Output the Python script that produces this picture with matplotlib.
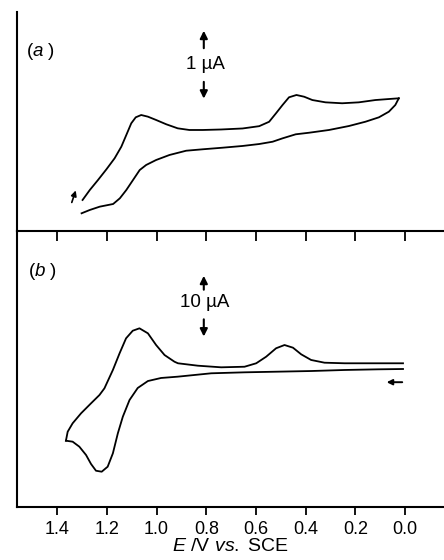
import matplotlib
matplotlib.use('Agg')
import matplotlib.pyplot as plt

plt.rcParams['font.family'] = ['Liberation Sans', 'DejaVu Sans']
plt.rcParams['mathtext.fontset'] = 'custom'
plt.rcParams['mathtext.rm'] = 'Liberation Sans'
plt.rcParams['mathtext.it'] = 'Liberation Sans:italic'

# ---------------- data ----------------
# Panel (a): potential (V vs. SCE) and current (µA, arbitrary offset)
a_upper_E = [1.298, 1.269, 1.236, 1.202, 1.169, 1.142, 1.122, 1.102, 1.084, 1.062,
             1.035, 1.002, 0.961, 0.915, 0.868, 0.814, 0.740, 0.654, 0.587, 0.547,
             0.520, 0.493, 0.467, 0.437, 0.406, 0.373, 0.320, 0.253, 0.186, 0.119,
             0.065, 0.025]
a_upper_I = [0.431, 0.569, 0.708, 0.857, 1.010, 1.171, 1.333, 1.496, 1.579, 1.611,
             1.588, 1.542, 1.482, 1.426, 1.403, 1.403, 1.410, 1.424, 1.456, 1.517,
             1.632, 1.750, 1.857, 1.889, 1.865, 1.819, 1.787, 1.774, 1.787, 1.819,
             1.833, 1.843]
a_lower_E = [0.025, 0.039, 0.065, 0.105, 0.159, 0.226, 0.306, 0.386, 0.440, 0.493,
             0.533, 0.587, 0.654, 0.734, 0.814, 0.881, 0.948, 1.002, 1.042, 1.068,
             1.095, 1.122, 1.148, 1.175, 1.229, 1.269, 1.302]
a_lower_I = [1.843, 1.750, 1.657, 1.579, 1.518, 1.458, 1.403, 1.365, 1.343, 1.287,
             1.240, 1.208, 1.181, 1.157, 1.135, 1.115, 1.056, 0.986, 0.917, 0.847,
             0.708, 0.569, 0.454, 0.375, 0.338, 0.292, 0.246]

# Panel (b)
b_upper_E = [0.008, 0.109, 0.243, 0.324, 0.378, 0.418, 0.451, 0.485, 0.519, 0.559,
             0.599, 0.646, 0.740, 0.834, 0.914, 0.928, 0.968, 1.002, 1.035, 1.069,
             1.096, 1.123, 1.149, 1.176, 1.210, 1.230, 1.264, 1.304, 1.338, 1.358,
             1.365]
b_upper_I = [22.11, 22.11, 22.11, 22.20, 22.62, 23.49, 24.51, 24.92, 24.42, 23.12,
             22.11, 21.58, 21.49, 21.74, 22.11, 22.35, 23.38, 24.92, 26.72, 27.49,
             27.12, 25.95, 23.65, 21.08, 18.26, 17.23, 15.95, 14.42, 12.88, 11.58,
             10.20]
b_lower_E = [1.365, 1.338, 1.311, 1.284, 1.264, 1.244, 1.221, 1.197, 1.176, 1.156,
             1.136, 1.109, 1.076, 1.035, 0.982, 0.915, 0.780, 0.646, 0.512, 0.378,
             0.243, 0.109, 0.008]
b_lower_I = [10.20, 10.05, 9.28, 8.00, 6.62, 5.58, 5.43, 6.20, 8.26, 11.34,
             13.89, 16.46, 18.31, 19.38, 19.85, 20.05, 20.57, 20.72, 20.82, 20.92,
             21.08, 21.18, 21.23]

xticks = [1.4, 1.2, 1.0, 0.8, 0.6, 0.4, 0.2, 0.0]
xtick_labels = ['1.4', '1.2', '1.0', '0.8', '0.6', '0.4', '0.2', '0.0']
scale_a_label = '1 µA'
scale_b_label = '10 µA'
xlabel = r'$E$ /V $vs.$ SCE'

# ---------------- figure ----------------
W, H = 444, 560
fig = plt.figure(figsize=(W / 100, H / 100), dpi=100)

px_per_V = 248.4
x0_px = 405.0  # pixel of E = 0.0


def xlim_for(left_px):
    return ((x0_px - left_px) / px_per_V, (x0_px - W) / px_per_V)


lw_curve = 1.3
lw_spine = 1.5
left_px = 17

# Panel (b) first (so panel (a) with its downward ticks is drawn on top)
b_top, b_bottom = 231, 507
ax_b = fig.add_axes([left_px / W, (H - b_bottom) / H, (W - left_px) / W, (b_bottom - b_top) / H])
ax_b.patch.set_visible(False)
ax_b.set_xlim(*xlim_for(left_px))
ax_b.set_ylim(0, (b_bottom - b_top) / 6.5)
ax_b.plot(b_upper_E, b_upper_I, color='black', lw=lw_curve, solid_joinstyle='round')
ax_b.plot(b_lower_E, b_lower_I, color='black', lw=lw_curve, solid_joinstyle='round')
for s in ['top', 'right']:
    ax_b.spines[s].set_visible(False)
for s in ['left', 'bottom']:
    ax_b.spines[s].set_linewidth(lw_spine)
ax_b.set_xticks(xticks)
ax_b.set_xticklabels(xtick_labels, fontsize=13)
ax_b.tick_params(axis='x', direction='out', length=6, width=1.3, pad=4)
ax_b.set_yticks([])
ax_b.set_xlabel(xlabel, fontsize=14, labelpad=0)
ax_b.text(0.025, 0.855, r'($b$ )', transform=ax_b.transAxes, fontsize=13.5, ha='left', va='center')
ax_b.annotate('', xy=(0.81, 36.0), xytext=(0.81, 33.0),
              arrowprops=dict(arrowstyle='-|>', lw=1.5, color='black', mutation_scale=11))
ax_b.annotate('', xy=(0.81, 25.8), xytext=(0.81, 29.3),
              arrowprops=dict(arrowstyle='-|>', lw=1.5, color='black', mutation_scale=11))
ax_b.text(0.805, 31.5, scale_b_label, fontsize=13.5, ha='center', va='center')
ax_b.annotate('', xy=(0.085, 19.2), xytext=(0.0, 19.2),
              arrowprops=dict(arrowstyle='-|>', lw=1.4, color='black', mutation_scale=8))

# Panel (a)
a_top, a_bottom = 12, 231
ax_a = fig.add_axes([left_px / W, (H - a_bottom) / H, (W - left_px) / W, (a_bottom - a_top) / H])
ax_a.patch.set_visible(False)
ax_a.set_xlim(*xlim_for(left_px))
ax_a.set_ylim(0, (a_bottom - a_top) / 72.0)
ax_a.plot(a_upper_E, a_upper_I, color='black', lw=lw_curve, solid_joinstyle='round')
ax_a.plot(a_lower_E, a_lower_I, color='black', lw=lw_curve, solid_joinstyle='round')
for s in ['top', 'right']:
    ax_a.spines[s].set_visible(False)
for s in ['left', 'bottom']:
    ax_a.spines[s].set_linewidth(lw_spine)
ax_a.set_xticks(xticks)
ax_a.set_xticklabels([])
ax_a.tick_params(axis='x', direction='out', length=7, width=1.3)
ax_a.set_yticks([])
ax_a.text(0.022, 0.82, r'($a$ )', transform=ax_a.transAxes, fontsize=13.5, ha='left', va='center')
# scale bar
ax_a.annotate('', xy=(0.81, 2.82), xytext=(0.81, 2.50),
              arrowprops=dict(arrowstyle='-|>', lw=1.5, color='black', mutation_scale=11))
ax_a.annotate('', xy=(0.81, 1.80), xytext=(0.81, 2.11),
              arrowprops=dict(arrowstyle='-|>', lw=1.5, color='black', mutation_scale=11))
ax_a.text(0.805, 2.31, scale_a_label, fontsize=13.5, ha='center', va='center')
# small direction arrow
ax_a.annotate('', xy=(1.322, 0.60), xytext=(1.345, 0.36),
              arrowprops=dict(arrowstyle='-|>', lw=1.2, color='black', mutation_scale=8))

fig.savefig('out.png', dpi=100)
